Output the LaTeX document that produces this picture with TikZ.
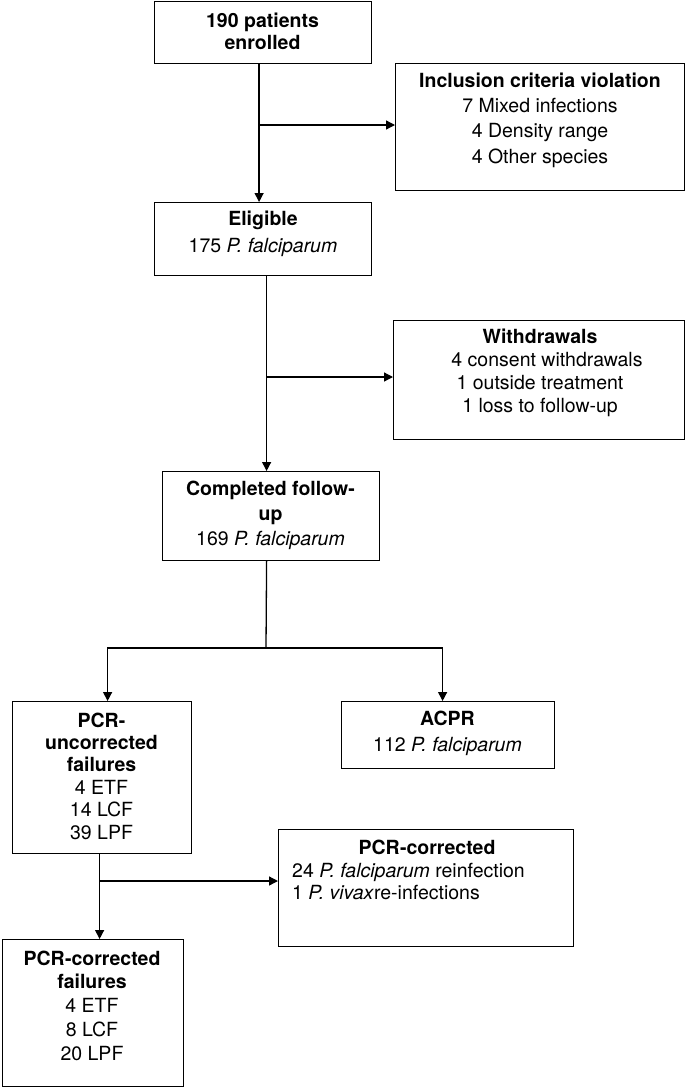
\documentclass[tikz,border=0pt]{standalone}
\usepackage{fontspec}
\setmainfont{TeX Gyre Heros}
\usetikzlibrary{arrows.meta}
\begin{document}
\begin{tikzpicture}[x=1pt,y=-1pt,
  box/.style={draw, line width=1.2pt, rectangle, inner sep=0pt, anchor=north west},
  txt/.style={align=center, inner sep=0pt},
  conn/.style={line width=1.3pt},
  arr/.style={conn, -{Triangle[length=9pt,width=9pt]}}]
\useasboundingbox (0,0) rectangle (685,1087);

% boxes
\node[box, minimum width=217pt, minimum height=62pt]  (b1)     at (154,1)   {};
\node[box, minimum width=289pt, minimum height=127pt] (incl)   at (395,63)  {};
\node[box, minimum width=217pt, minimum height=73pt]  (elig)   at (154,202) {};
\node[box, minimum width=291pt, minimum height=119pt] (withd)  at (393,320) {};
\node[box, minimum width=217pt, minimum height=89pt]  (compl)  at (162,471) {};
\node[box, minimum width=213pt, minimum height=67pt]  (acpr)   at (341,701) {};
\node[box, minimum width=179pt, minimum height=152pt] (uncorr) at (12,701)  {};
\node[box, minimum width=295pt, minimum height=117pt] (pcrc)   at (278,829) {};
\node[box, minimum width=181pt, minimum height=147pt] (fail)   at (2,939)   {};

% texts
\node[txt, font=\fontsize{19.5}{22}\selectfont] (t1) at (262.5,31)
  {\bfseries 190 patients\\\bfseries enrolled};
\node[txt, font=\fontsize{19.5}{25.3}\selectfont] (tincl) at (540,120)
  {\bfseries Inclusion criteria violation\\7 Mixed infections\\4 Density range\\4 Other species};
\node[txt, font=\fontsize{19.5}{27}\selectfont] (telig) at (263,233.5)
  {\bfseries Eligible\\175 \textit{P. falciparum}};
\node[txt, font=\fontsize{19.5}{23}\selectfont] (twithd) at (540,372.75)
  {\bfseries Withdrawals\\\hspace*{14pt}4 consent withdrawals\\1 outside treatment\\1 loss to follow-up};
\node[txt, font=\fontsize{19.5}{25}\selectfont] (tcompl) at (270.5,515)
  {\bfseries Completed follow-\\\bfseries up\\169 \textit{P. falciparum}};
\node[txt, font=\fontsize{19.5}{26}\selectfont] (tacpr) at (447.5,733)
  {\bfseries ACPR\\112 \textit{P. falciparum}};
\node[txt, font=\fontsize{19.5}{22.4}\selectfont] (tuncorr) at (101.5,776)
  {\bfseries PCR-\\\bfseries uncorrected\\\bfseries failures\\4 ETF\\14 LCF\\39 LPF};
\node[txt, font=\fontsize{19.5}{23}\selectfont] (tpcrcT) at (427,847)
  {\bfseries PCR-corrected};
\node[txt, align=left, anchor=west, font=\fontsize{19.5}{22}\selectfont] (tpcrcB) at (292,881)
  {24 \textit{P. falciparum} reinfection\\1 \textit{P. vivax}re-infections};
\node[txt, font=\fontsize{19.5}{23.75}\selectfont] (tfail) at (92,1005.5)
  {\bfseries PCR-corrected\\\bfseries failures\\4 ETF\\8 LCF\\20 LPF};

% connectors
\draw[arr] ([xshift=-4pt]b1.south) -- ([xshift=-4pt]elig.north);
\coordinate (j1) at (258.5,125);
\draw[arr] (j1) -- (j1 -| incl.west);

\draw[arr] ([xshift=3.5pt]elig.south) -- ([xshift=-4.5pt]compl.north);
\coordinate (j2) at (266,377);
\draw[arr] (j2) -- (j2 -| withd.west);

\coordinate (j3) at (266,648);
\draw[conn] ([xshift=-4.5pt]compl.south) -- (j3);
\draw[arr] (j3) -| ([xshift=5.5pt]uncorr.north);
\draw[arr] (j3) -| ([xshift=-5.5pt]acpr.north);

\draw[arr] ([xshift=-2.5pt]uncorr.south) -- ([xshift=6.5pt]fail.north);
\coordinate (j4) at (99,881);
\draw[arr] (j4) -- (j4 -| pcrc.west);
\end{tikzpicture}
\end{document}
